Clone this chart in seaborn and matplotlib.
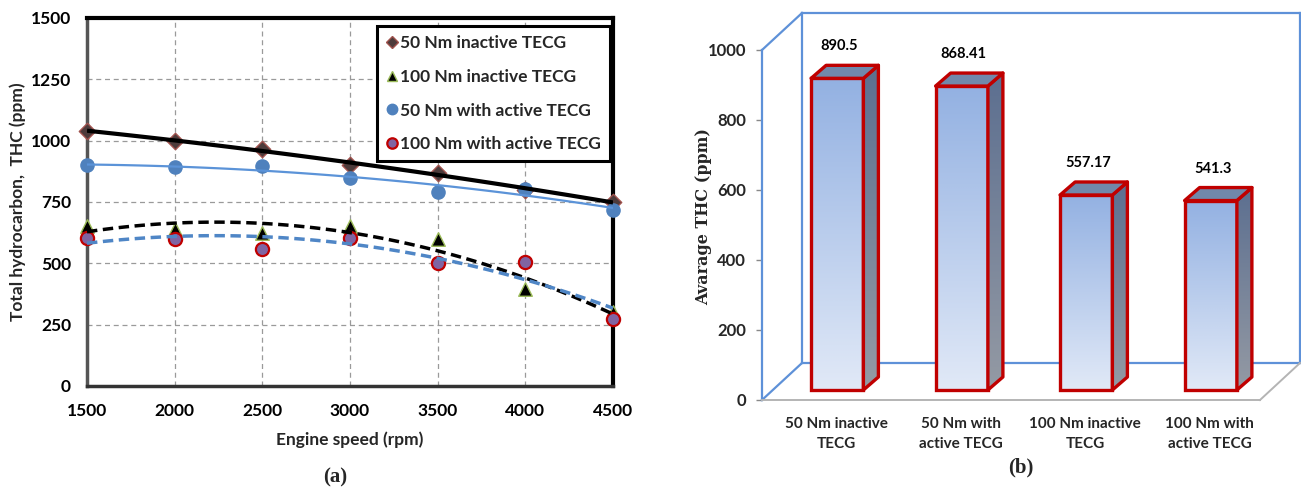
import numpy as np
import pandas as pd
import matplotlib
matplotlib.use("Agg")
import matplotlib.pyplot as plt
import seaborn as sns
from matplotlib.lines import Line2D
from matplotlib.patches import Polygon
from matplotlib.image import AxesImage
from matplotlib.colors import LinearSegmentedColormap
from matplotlib.transforms import offset_copy, ScaledTranslation

# ---------------------------------------------------------------- data
speed = [1500, 2000, 2500, 3000, 3500, 4000, 4500]
thc_50_inactive = [1040, 1000, 965, 900, 870, 800, 750]
thc_100_inactive = [651, 640, 624, 654, 600, 396, 300]
thc_50_active = [900, 892, 896, 848, 791, 803, 719]
thc_100_active = [604, 600, 560, 604, 502, 505, 275]

series_names = ["50 Nm inactive TECG", "100 Nm inactive TECG",
                "50 Nm with active TECG", "100 Nm with active TECG"]

bar_categories = ["50 Nm inactive\nTECG", "50 Nm with\nactive TECG",
                  "100 Nm inactive\nTECG", "100 Nm with\nactive TECG"]
avg_thc = [890.5, 868.41, 557.17, 541.3]

y_ticks_left = [0, 250, 500, 750, 1000, 1250, 1500]
y_ticks_right = [0, 200, 400, 600, 800, 1000]

# ---------------------------------------------------------------- style
sns.set_theme(style="white")
plt.rcParams["font.family"] = ["Lato", "DejaVu Sans"]
plt.rcParams["font.weight"] = "bold"
SERIF = ["Liberation Serif", "DejaVu Serif"]

W, H = 1301, 488
fig = plt.figure(figsize=(W / 100, H / 100), dpi=100)


def box(x0, y0, x1, y1):
    """pixel box measured from the top-left corner -> figure fraction rect"""
    return [x0 / W, 1 - y1 / H, (x1 - x0) / W, (y1 - y0) / H]


# ================================================================ (a) line chart
ax1 = fig.add_axes(box(87, 18, 613, 386))

styles = {
    "50 Nm inactive TECG": dict(y=thc_50_inactive, marker="D", fc="#4d3b3b", ec="#a0524d", ew=1.0, s=70,
                                line=dict(color="black", lw=3.0, ls="-")),
    "100 Nm inactive TECG": dict(y=thc_100_inactive, marker="^", fc="black", ec="#9bbb59", ew=1.0, s=95,
                                 line=dict(color="black", lw=2.5, ls=(0, (3, 1.6)))),
    "50 Nm with active TECG": dict(y=thc_50_active, marker="o", fc="#4f81bd", ec="#4f81bd", ew=1.0, s=90,
                                   line=dict(color="#5b93d8", lw=1.6, ls="-")),
    "100 Nm with active TECG": dict(y=thc_100_active, marker="o", fc="#8064a2", ec="#c00000", ew=1.6, s=90,
                                    line=dict(color="#4f86c6", lw=2.5, ls=(0, (3, 1.6)))),
}

for name, st in styles.items():
    sns.scatterplot(x=speed, y=st["y"], marker=st["marker"], color=st["fc"], edgecolor=st["ec"],
                    linewidth=st["ew"], s=st["s"], ax=ax1, zorder=3, clip_on=False)

# second-order trend lines drawn over the markers
for name, st in styles.items():
    sns.regplot(x=speed, y=st["y"], order=2, ci=None, scatter=False, truncate=True, ax=ax1,
                line_kws=dict(color=st["line"]["color"], lw=st["line"]["lw"], ls=st["line"]["ls"],
                              zorder=4, solid_capstyle="butt", dash_capstyle="butt"))

ax1.set_xlim(1500, 4500)
ax1.set_ylim(0, 1500)
ax1.set_xticks(speed)
ax1.set_yticks(y_ticks_left)
ax1.grid(True, color="#9a9a9a", lw=0.9, ls=(0, (4, 3)))
ax1.set_axisbelow(True)
for side in ["top", "right"]:
    ax1.spines[side].set_color("black")
    ax1.spines[side].set_linewidth(3)
ax1.spines["left"].set_color("#555555")
ax1.spines["left"].set_linewidth(2.5)
ax1.spines["bottom"].set_color("#333333")
ax1.spines["bottom"].set_linewidth(2.5)
ax1.tick_params(axis="both", direction="out", length=4, width=1, color="#888888",
                labelsize=12.5, labelcolor="black", pad=7.5)
ax1.tick_params(axis="x", pad=8)
for lab in ax1.get_xticklabels() + ax1.get_yticklabels():
    lab.set_fontweight("bold")
ax1.set_xlabel("Engine speed (rpm)", fontsize=12.5, fontweight="bold", labelpad=9)
ax1.set_ylabel("Total hydrocarbon,  THC (ppm)", fontsize=12.5, fontweight="bold")
ax1.yaxis.set_label_coords(-0.116, 0.5)

handles = [Line2D([], [], ls="none", marker=st["marker"], markersize=7.5 if st["marker"] != "D" else 6.5,
                  markerfacecolor=st["fc"], markeredgecolor=st["ec"], markeredgewidth=st["ew"])
           for st in styles.values()]
leg = ax1.legend(handles, series_names, loc="upper left", bbox_to_anchor=(0.551, 0.978),
                 frameon=True, fancybox=False, framealpha=1, edgecolor="black",
                 prop=dict(size=12.5, weight="bold"), handlelength=0.7, handletextpad=0.15,
                 labelspacing=1.03, borderpad=0.5, borderaxespad=0)
leg.get_frame().set_linewidth(2.2)
leg.set_zorder(5)

fig.text(335 / W, 1 - 477 / H, "(a)", ha="center", va="center", fontsize=15,
         fontweight="bold", family=SERIF)

# ================================================================ (b) 3-D style bar chart
ax2 = fig.add_axes(box(762, 50, 1260, 400))
bar_df = pd.DataFrame({"case": bar_categories, "thc": avg_thc})
sns.barplot(data=bar_df, x="case", y="thc", width=0.42, color="#9ab5e4", saturation=1,
            edgecolor="#c00000", linewidth=2.4, ax=ax2, zorder=3)
ax2.set_xlim(-0.5, 3.5)
ax2.set_ylim(0, 1000)
ax2.set_autoscale_on(False)


def data_delta(dx_px, dy_px):
    inv = ax2.transData.inverted()
    (x0, y0), (x1, y1) = inv.transform([(0, 0), (dx_px, dy_px)])
    return x1 - x0, y1 - y0


# bars sit mid-way into the floor: shift them back in screen space
bar_shift = offset_copy(ax2.transData, fig=fig, x=13, y=10, units="dots")
side_dx, side_dy = data_delta(15, 13)
floor_dx, floor_dy = data_delta(40, 37)

front_cmap = LinearSegmentedColormap.from_list("front", ["#e1e9f7", "#93b1e2"])
side_cmap = LinearSegmentedColormap.from_list("side", ["#949aa4", "#5c6f90"])
grad = np.linspace(1, 0, 256)[:, None]

RED = "#c00000"
for patch, value in zip(ax2.patches, avg_thc):
    patch.set_transform(bar_shift)
    patch.set_joinstyle("miter")
    patch.set_facecolor("none")
    x0 = patch.get_x()
    w = patch.get_width()
    h = patch.get_height()
    x1 = x0 + w

    # vertical shading of the front face
    im = AxesImage(ax2, cmap=front_cmap, interpolation="bilinear", extent=(x0, x1, 0, h), zorder=2.9)
    im.set_data(grad)
    im.set_clim(0, 1)
    im.set_transform(bar_shift)
    im.set_clip_path(patch)
    ax2.add_image(im)

    side = Polygon([(x1, 0), (x1 + side_dx, side_dy), (x1 + side_dx, h + side_dy), (x1, h)],
                   closed=True, facecolor="none", edgecolor=RED, lw=2.4, joinstyle="round",
                   transform=bar_shift, zorder=3.1, clip_on=False)
    ax2.add_patch(side)
    sim = AxesImage(ax2, cmap=side_cmap, interpolation="bilinear",
                    extent=(x1, x1 + side_dx, 0, h + side_dy), zorder=3.05)
    sim.set_data(grad)
    sim.set_clim(0, 1)
    sim.set_transform(bar_shift)
    sim.set_clip_path(side)
    ax2.add_image(sim)

    top = Polygon([(x0, h), (x1, h), (x1 + side_dx, h + side_dy), (x0 + side_dx, h + side_dy)],
                  closed=True, facecolor="#7188ab", edgecolor=RED, lw=2.4, joinstyle="round",
                  transform=bar_shift, zorder=3.1, clip_on=False)
    ax2.add_patch(top)

    ax2.text(x0 + w / 2, h + side_dy, f"{value:g}",
             transform=offset_copy(ax2.transData, fig=fig, x=15, y=22, units="dots"),
             ha="center", va="bottom", fontsize=10.5, fontweight="bold", color="black", zorder=6)

# walls and floor
WALL = "#5e91d8"
FLOOR = "#b4b4b4"
xa, xb = -0.5, 3.5
wall_lines = [
    ([xa, xa], [0, 1000], WALL),
    ([xa, xa + floor_dx], [1000, 1000 + floor_dy], WALL),
    ([xa + floor_dx, xb + floor_dx], [1000 + floor_dy, 1000 + floor_dy], WALL),
    ([xb + floor_dx, xb + floor_dx], [1000 + floor_dy, floor_dy], WALL),
    ([xa + floor_dx, xa + floor_dx], [1000 + floor_dy, floor_dy], WALL),
    ([xa + floor_dx, xb + floor_dx], [floor_dy, floor_dy], WALL),
    ([xa, xa + floor_dx], [0, floor_dy], WALL),
    ([xa, xb], [0, 0], FLOOR),
    ([xb, xb + floor_dx], [0, floor_dy], FLOOR),
]
for xs, ys, c in wall_lines:
    ax2.plot(xs, ys, color=c, lw=1.6 if c == WALL else 1.4, zorder=1, clip_on=False,
             solid_capstyle="projecting")

for s in ax2.spines.values():
    s.set_visible(False)
ax2.set_yticks(y_ticks_right)
ax2.set_xticks(range(len(bar_categories)))
ax2.set_xticklabels(bar_categories, fontsize=11, fontweight="bold", linespacing=1.55)
ax2.tick_params(axis="y", direction="out", length=4, width=1, color="#888888",
                labelsize=12, pad=7.5, left=True)
ax2.tick_params(axis="x", length=0, pad=12)
for lab in ax2.get_yticklabels():
    lab.set_fontweight("bold")
# category labels follow the bars, which sit a little behind the front edge
for lab in ax2.get_xticklabels():
    lab.set_transform(lab.get_transform() + ScaledTranslation(0.12, 0, fig.dpi_scale_trans))
ax2.set_xlabel("")
ax2.set_ylabel("")
ax2.grid(False)

fig.text(704 / W, 1 - 217 / H, "Avarage THC (ppm)", rotation=90, ha="center", va="center",
         fontsize=11.5, fontweight="bold", family=["DejaVu Serif"])
fig.text(1021 / W, 1 - 467 / H, "(b)", ha="center", va="center", fontsize=15,
         fontweight="bold", family=SERIF)

fig.savefig("out.png", dpi=100)
